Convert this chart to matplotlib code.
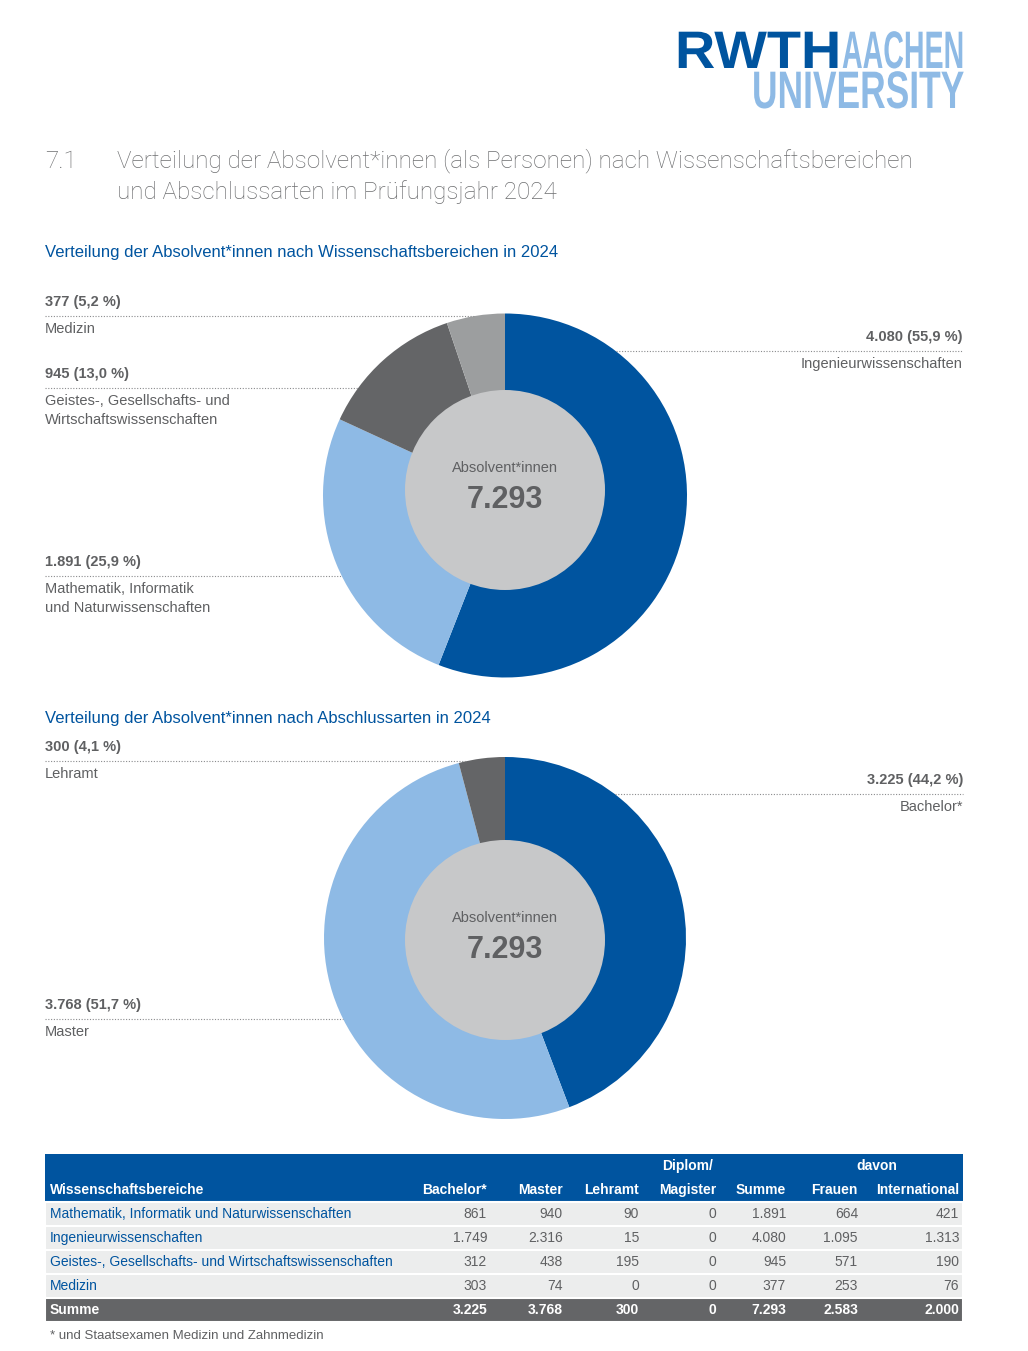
import matplotlib
matplotlib.use("Agg")
import matplotlib.pyplot as plt
from matplotlib.patches import Circle, Rectangle
from matplotlib.patheffects import AbstractPathEffect
from matplotlib.transforms import Affine2D

# --- data ---
bereiche = ["Mathematik, Informatik und Naturwissenschaften",
            "Ingenieurwissenschaften",
            "Geistes-, Gesellschafts- und Wirtschaftswissenschaften",
            "Medizin"]
bachelor = [861, 1749, 312, 303]
master = [940, 2316, 438, 74]
lehramt = [90, 15, 195, 0]
diplom = [0, 0, 0, 0]
summe = [1891, 4080, 945, 377]
frauen = [664, 1095, 571, 253]
international = [421, 1313, 190, 76]

spalten = ["Bachelor*", "Master", "Lehramt", "Magister", "Summe", "Frauen", "International"]

BLUE = "#00549F"
LBLUE = "#8EBAE5"
DGRAY = "#646567"
LGRAY = "#9C9E9F"
CGRAY = "#C7C8C9"
TXT = "#5f6062"
FONT = ["Liberation Sans", "DejaVu Sans"]
LIGHT = ["Roboto", "DejaVu Sans"]

W, H = 1028, 1351
def Y(y):
    return H - y

def fmt(n):
    return f"{n:,}".replace(",", ".")

def pct(n, tot):
    return f"{100 * n / tot:.1f}".replace(".", ",")

plt.rcParams["font.family"] = FONT

fig = plt.figure(figsize=(W / 100, H / 100), dpi=100)
ax = fig.add_axes([0, 0, 1, 1])
ax.set_xlim(0, W)
ax.set_ylim(0, H)


class Stretch(AbstractPathEffect):
    """scale text vertically around its baseline (display px)"""
    def __init__(self, sy, y0):
        super().__init__()
        self.sy, self.y0 = sy, y0

    def draw_path(self, renderer, gc, tpath, affine, rgbFace=None):
        aff = affine + Affine2D().translate(0, -self.y0).scale(1, self.sy).translate(0, self.y0)
        renderer.draw_path(gc, tpath, aff, rgbFace)


# --- logo: condensed letters, fit to width then stretched to cap height ---
fig.canvas.draw()
rend = fig.canvas.get_renderer()
for txt, x0, x1, base, col in [("RWTH", 675, 841, 68, BLUE),
                               ("AACHEN", 842, 964, 68, LBLUE),
                               ("UNIVERSITY", 752, 964, 108, LBLUE)]:
    t = ax.text(x0, Y(base), txt, fontsize=38, fontweight="bold", color=col,
                ha="left", va="baseline", family="Liberation Sans")
    k = (x1 - x0) / t.get_window_extent(rend).width
    t.set_fontsize(38 * k)
    t.set_path_effects([Stretch(1 / k, Y(base))])

# --- title ---
ax.text(45, Y(161), "7.1", fontsize=17.5, color="#6d6e70", va="center",
        family=LIGHT, fontweight="light")
ax.text(117, Y(161), "Verteilung der Absolvent*innen (als Personen) nach Wissenschaftsbereichen",
        fontsize=17.5, color="#6d6e70", va="center", family=LIGHT, fontweight="light")
ax.text(117, Y(192), "und Abschlussarten im Prüfungsjahr 2024",
        fontsize=17.5, color="#6d6e70", va="center", family=LIGHT, fontweight="light")


def donut(cy, icy, R, values, colors, center_total):
    cx, r = 505, 100
    ax.pie(values, colors=colors, center=(cx, Y(cy)), radius=R, startangle=90,
           counterclock=False, wedgeprops=dict(linewidth=0, edgecolor="none"))
    ax.add_patch(Circle((cx, Y(icy)), r, color=CGRAY, lw=0, zorder=3))
    ax.text(cx, Y(icy - 22), "Absolvent*innen", fontsize=10.5, color=TXT,
            ha="center", va="center", zorder=4)
    ax.text(cx, Y(icy + 10), fmt(center_total), fontsize=22, fontweight="bold",
            color=TXT, ha="center", va="center", zorder=4)
    return cx


def callout(cx, cy, R, ly, value_txt, lines, side="left"):
    dy = abs(ly + 14 - cy)
    edge = (R ** 2 - dy ** 2) ** 0.5
    if side == "left":
        x0, x1, tx, ha = 45, cx - edge, 45, "left"
    else:
        x0, x1, tx, ha = cx + edge, 963, 963, "right"
    ax.text(tx, Y(ly), value_txt, fontsize=10.5, fontweight="bold", color=TXT,
            ha=ha, va="center")
    ax.plot([x0, x1], [Y(ly + 14), Y(ly + 14)], ls=(0, (1, 1.5)), lw=0.8, color="#8a8b8d")
    for i, line in enumerate(lines):
        ax.text(tx, Y(ly + 27 + i * 18.5), line, fontsize=10.5, color=TXT, ha=ha, va="center")


total = sum(summe)

# --- donut 1: Wissenschaftsbereiche ---
ax.text(45, Y(253), "Verteilung der Absolvent*innen nach Wissenschaftsbereichen in 2024",
        fontsize=12, color=BLUE, va="center")
order = [1, 0, 2, 3]
cy1, R1 = 495.5, 182
cx = donut(cy1, 490, R1, [summe[i] for i in order], [BLUE, LBLUE, DGRAY, LGRAY], total)
callout(cx, cy1, R1, 302, f"{fmt(summe[3])} ({pct(summe[3], total)} %)", ["Medizin"])
callout(cx, cy1, R1, 374, f"{fmt(summe[2])} ({pct(summe[2], total)} %)",
        ["Geistes-, Gesellschafts- und", "Wirtschaftswissenschaften"])
callout(cx, cy1, R1, 562, f"{fmt(summe[0])} ({pct(summe[0], total)} %)",
        ["Mathematik, Informatik", "und Naturwissenschaften"])
callout(cx, cy1, R1, 337, f"{fmt(summe[1])} ({pct(summe[1], total)} %)",
        ["Ingenieurwissenschaften"], side="right")

# --- donut 2: Abschlussarten ---
ax.text(45, Y(719), "Verteilung der Absolvent*innen nach Abschlussarten in 2024",
        fontsize=12, color=BLUE, va="center")
abs_vals = [sum(bachelor), sum(master), sum(lehramt)]
cy2, R2 = 938, 181
cx = donut(cy2, 940, R2, abs_vals, [BLUE, LBLUE, DGRAY], total)
callout(cx, cy2, R2, 747, f"{fmt(abs_vals[2])} ({pct(abs_vals[2], total)} %)", ["Lehramt"])
callout(cx, cy2, R2, 780, f"{fmt(abs_vals[0])} ({pct(abs_vals[0], total)} %)",
        ["Bachelor*"], side="right")
callout(cx, cy2, R2, 1005, f"{fmt(abs_vals[1])} ({pct(abs_vals[1], total)} %)", ["Master"])

# --- table ---
tx0, tx1 = 45, 963
col_right = [487, 563, 639, 716, 786, 858, 959]
ax.add_patch(Rectangle((tx0, Y(1202)), tx1 - tx0, 48, color=BLUE, lw=0))
ax.text(688, Y(1166), "Diplom/", fontsize=10, fontweight="bold", color="white", ha="center", va="center")
ax.text(877, Y(1166), "davon", fontsize=10, fontweight="bold", color="white", ha="center", va="center")
ax.text(50, Y(1190), "Wissenschaftsbereiche", fontsize=10, fontweight="bold", color="white", va="center")
for name, xr in zip(spalten, col_right):
    ax.text(xr, Y(1190), name, fontsize=10, fontweight="bold", color="white", ha="right", va="center")

cols = [bachelor, master, lehramt, diplom, summe, frauen, international]
for i, name in enumerate(bereiche):
    top = 1202 + i * 24
    ax.add_patch(Rectangle((tx0, Y(top + 24)), tx1 - tx0, 24, facecolor="#ECEDED",
                           edgecolor="white", lw=1.5))
    ax.text(50, Y(top + 12), name, fontsize=10, color=BLUE, va="center")
    for c, xr in zip(cols, col_right):
        ax.text(xr, Y(top + 12), fmt(c[i]), fontsize=10, color=TXT, ha="right", va="center")

top = 1202 + 4 * 24
ax.add_patch(Rectangle((tx0, Y(top + 24)), tx1 - tx0, 24, facecolor=DGRAY, edgecolor="white", lw=1.5))
ax.text(50, Y(top + 12), "Summe", fontsize=10, fontweight="bold", color="white", va="center")
for c, xr in zip(cols, col_right):
    ax.text(xr, Y(top + 12), fmt(sum(c)), fontsize=10, fontweight="bold", color="white",
            ha="right", va="center")

ax.text(50, Y(1336), "* und Staatsexamen Medizin und Zahnmedizin", fontsize=9.5, color=TXT, va="center")

ax.set_xlim(0, W)
ax.set_ylim(0, H)
ax.set_aspect("auto")
ax.axis("off")

fig.savefig("out.png", dpi=100)
